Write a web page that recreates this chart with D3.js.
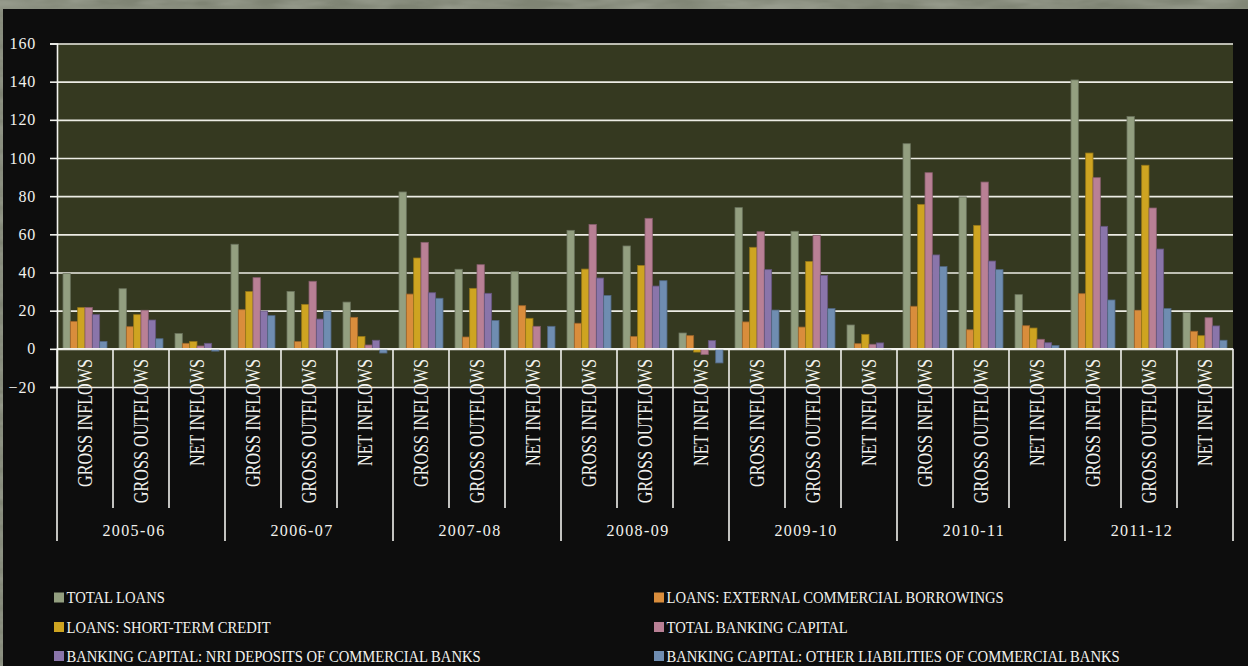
<!DOCTYPE html>
<html>
<head>
<meta charset="utf-8">
<script src="https://cdn.jsdelivr.net/npm/d3@7"></script>
<style>
  html, body { margin: 0; padding: 0; background: #0d0d0d; }
  svg { display: block; }
  text { font-family: "Liberation Serif", "DejaVu Serif", serif; fill: #f2f2ee; }
</style>
</head>
<body>
<svg id="chart" width="1248" height="666"></svg>
<script>
// Capital flows by year: gross inflows, gross outflows and net inflows
const years = ["2005-06", "2006-07", "2007-08", "2008-09", "2009-10", "2010-11", "2011-12"];
const flows = ["GROSS INFLOWS", "GROSS OUTFLOWS", "NET INFLOWS"];
const yTicks = [-20, 0, 20, 40, 60, 80, 100, 120, 140, 160];

const seriesNames = [
  "TOTAL LOANS",
  "LOANS: EXTERNAL COMMERCIAL BORROWINGS",
  "LOANS: SHORT-TERM CREDIT",
  "TOTAL BANKING CAPITAL",
  "BANKING CAPITAL: NRI DEPOSITS OF COMMERCIAL BANKS",
  "BANKING CAPITAL: OTHER LIABILITIES OF COMMERCIAL BANKS"
];
const seriesColors = ["#939f80", "#d98d3c", "#cea421", "#b98095", "#8a75aa", "#6f8db1"];

// values in the order year × (gross inflows, gross outflows, net inflows)
const totalLoans   = [39.4, 31.5, 8.0, 54.8, 30.1, 24.5, 82.2, 41.7, 40.5, 62.1, 53.9, 8.3, 74.0, 61.6, 12.5, 107.5, 79.6, 28.4, 140.9, 121.7, 19.1];
const ecb          = [14.4, 11.6, 2.9, 20.5, 3.8, 16.5, 28.7, 6.2, 22.6, 13.4, 6.5, 6.9, 14.1, 11.4, 2.7, 22.3, 10.0, 12.1, 28.9, 20.2, 9.2];
const shortTerm    = [21.6, 17.9, 3.8, 30.0, 23.3, 6.5, 47.6, 31.7, 16.0, 41.8, 43.7, -1.7, 53.2, 45.8, 7.6, 75.7, 64.7, 10.9, 102.6, 96.2, 6.9];
const bankCapital  = [21.7, 20.2, 1.5, 37.3, 35.4, 2.0, 55.8, 44.1, 11.8, 65.2, 68.4, -3.0, 61.4, 59.5, 2.4, 92.3, 87.4, 5.0, 89.7, 73.8, 16.3];
const nriDeposits  = [17.9, 15.1, 2.9, 19.8, 15.6, 4.5, 29.4, 29.1, 0.3, 37.1, 32.9, 4.3, 41.5, 38.5, 3.1, 49.2, 46.0, 3.2, 64.2, 52.3, 12.0];
const otherLiab    = [3.9, 5.3, -1.2, 17.4, 19.8, -2.2, 26.5, 14.9, 11.8, 28.0, 35.7, -7.4, 20.3, 21.1, -0.4, 43.1, 41.5, 1.8, 25.6, 21.2, 4.5];

const seriesValues = [totalLoans, ecb, shortTerm, bankCapital, nriDeposits, otherLiab];

// categories: one per (year, flow)
const categories = [];
years.forEach(y => flows.forEach(f => categories.push({ year: y, flow: f, key: y + "|" + f })));

const svg = d3.select("#chart");
const W = 1248, H = 666;

// textured frame and dark panel
const defs = svg.append("defs");
const tex = defs.append("filter").attr("id", "grain").attr("x", 0).attr("y", 0).attr("width", "100%").attr("height", "100%");
tex.append("feTurbulence").attr("type", "fractalNoise").attr("baseFrequency", "0.02 0.08").attr("numOctaves", 3).attr("seed", 4).attr("result", "n");
tex.append("feColorMatrix").attr("in", "n").attr("type", "matrix")
  .attr("values", "0 0 0 0 0.56  0 0 0 0 0.58  0 0 0 0 0.51  0.9 0.9 0.9 0 -0.95");
svg.append("rect").attr("width", W).attr("height", H).attr("fill", "#7f8474");
svg.append("rect").attr("width", W).attr("height", H).attr("filter", "url(#grain)").attr("opacity", 0.35);
svg.append("rect").attr("x", 3).attr("y", 9).attr("width", W - 3).attr("height", H - 9).attr("fill", "#0d0d0d");

const plot = { left: 57, right: 1233, top: 43.5, bottom: 387 };

const x = d3.scaleBand().domain(categories.map(c => c.key)).range([plot.left, plot.right]).padding(0);
const inner = d3.scaleBand().domain(d3.range(seriesValues.length)).range([6, x.bandwidth() - 6]).padding(0);
const y = d3.scaleLinear().domain([-20, 160]).range([plot.bottom, plot.top]);

// plot background
svg.append("rect")
  .attr("x", plot.left).attr("y", plot.top)
  .attr("width", plot.right - plot.left).attr("height", plot.bottom - plot.top)
  .attr("fill", "#353920");

// gridlines
svg.append("g")
  .attr("transform", `translate(${plot.left},0)`)
  .call(d3.axisLeft(y).tickValues(yTicks).tickSize(-(plot.right - plot.left)).tickFormat(""))
  .call(g => g.select(".domain").remove())
  .call(g => g.selectAll(".tick line").attr("stroke", "#ecece4").attr("stroke-width", 1.6));

// bars
const bars = svg.append("g");
seriesValues.forEach((vals, si) => {
  const fill = seriesColors[si];
  bars.append("g").selectAll("rect")
    .data(vals.map((v, i) => ({ v, c: categories[i] })))
    .join("rect")
    .attr("x", d => x(d.c.key) + inner(si))
    .attr("width", inner.bandwidth())
    .attr("y", d => y(Math.max(0, d.v)))
    .attr("height", d => Math.abs(y(d.v) - y(0)))
    .attr("fill", fill)
    .attr("stroke", d3.color(fill).darker(0.9))
    .attr("stroke-width", 0.8);
});

// zero line
svg.append("line")
  .attr("x1", plot.left).attr("x2", plot.right)
  .attr("y1", y(0)).attr("y2", y(0))
  .attr("stroke", "#f2f2ee").attr("stroke-width", 1.6);

// y axis with labels
svg.append("g")
  .attr("transform", `translate(${plot.left},0)`)
  .call(d3.axisLeft(y).tickValues(yTicks).tickSize(7).tickPadding(14).tickFormat(d3.format("d")))
  .call(g => g.select(".domain").attr("stroke", "#f2f2ee").attr("stroke-width", 1.6))
  .call(g => g.selectAll(".tick line").attr("stroke", "#f2f2ee").attr("stroke-width", 1.6))
  .call(g => g.selectAll(".tick text")
    .attr("fill", "#f2f2ee")
    .style("font-family", "'Liberation Serif', serif")
    .style("font-size", "16px")
    .style("letter-spacing", "0.8px"));

// multi-level category axis separators
const subBottom = 508, groupBottom = 541;
const sepGroup = svg.append("g").attr("stroke", "#f2f2ee").attr("stroke-width", 1.6);
categories.forEach((c, i) => {
  const xx = x(c.key);
  const isGroupEdge = i % flows.length === 0;
  sepGroup.append("line")
    .attr("x1", xx).attr("x2", xx)
    .attr("y1", y(0)).attr("y2", isGroupEdge ? groupBottom : subBottom);
});
sepGroup.append("line")
  .attr("x1", plot.right).attr("x2", plot.right)
  .attr("y1", y(0)).attr("y2", groupBottom);

// flow labels (rotated)
const flowLabels = svg.append("g");
categories.forEach(c => {
  const cx = x(c.key) + x.bandwidth() / 2;
  const t = flowLabels.append("text")
    .attr("transform", `translate(${cx},359) rotate(-90)`)
    .attr("text-anchor", "end")
    .attr("dy", "0.34em")
    .style("font-size", "21px")
    .text(c.flow);
  const len = t.node().getComputedTextLength();
  t.attr("textLength", len * 0.77).attr("lengthAdjust", "spacingAndGlyphs");
});

// year labels
const yearLabels = svg.append("g");
years.forEach((yr, gi) => {
  const x0 = x(categories[gi * flows.length].key);
  const x1 = x(categories[gi * flows.length + flows.length - 1].key) + x.bandwidth();
  yearLabels.append("text")
    .attr("x", (x0 + x1) / 2 - 7)
    .attr("y", 536)
    .attr("text-anchor", "middle")
    .style("font-size", "16px")
    .style("letter-spacing", "1.4px")
    .text(yr);
});

// legend: two columns, filled row by row
const legend = svg.append("g");
const colX = [54, 654];
const rowY = [597.5, 627, 656];
seriesNames.forEach((name, i) => {
  const col = i % 2, row = Math.floor(i / 2);
  const g = legend.append("g").attr("transform", `translate(${colX[col]},${rowY[row]})`);
  g.append("rect").attr("x", 0).attr("y", -5).attr("width", 10).attr("height", 10)
    .attr("fill", seriesColors[i]);
  const t = g.append("text").attr("x", 12.5).attr("y", 5.5)
    .style("font-size", "17px")
    .text(name);
  const len = t.node().getComputedTextLength();
  t.attr("textLength", len * 0.86).attr("lengthAdjust", "spacingAndGlyphs");
});
</script>
</body>
</html>
